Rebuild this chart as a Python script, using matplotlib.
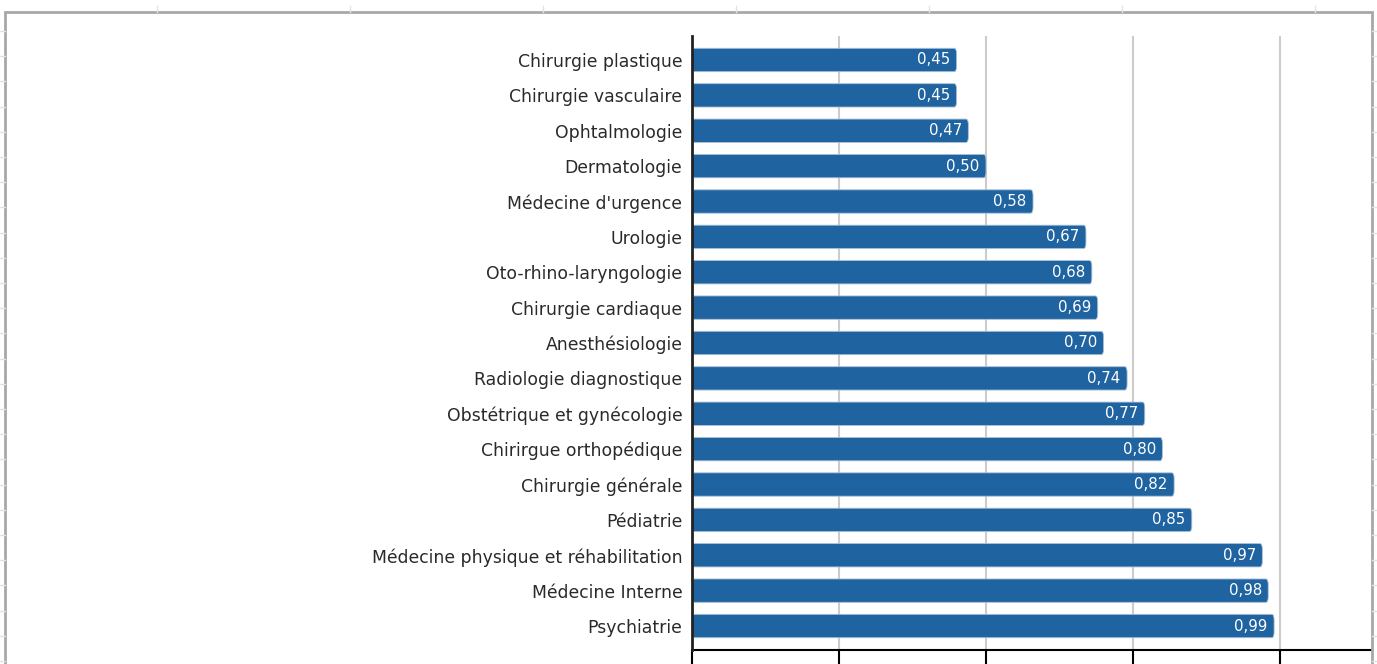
import matplotlib
matplotlib.use("Agg")
import matplotlib.pyplot as plt
from matplotlib.patches import FancyBboxPatch, Rectangle
from matplotlib.lines import Line2D

categories = [
    "Chirurgie plastique", "Chirurgie vasculaire", "Ophtalmologie", "Dermatologie",
    "Médecine d'urgence", "Urologie", "Oto-rhino-laryngologie", "Chirurgie cardiaque",
    "Anesthésiologie", "Radiologie diagnostique", "Obstétrique et gynécologie",
    "Chirirgue orthopédique", "Chirurgie générale", "Pédiatrie",
    "Médecine physique et réhabilitation", "Médecine Interne", "Psychiatrie",
]
values = [0.45, 0.45, 0.47, 0.50, 0.58, 0.67, 0.68, 0.69, 0.70, 0.74, 0.77,
          0.80, 0.82, 0.85, 0.97, 0.98, 0.99]
x_ticks = [0, 0.25, 0.5, 0.75, 1.0]

plt.rcParams['font.family'] = ['DejaVu Sans']

W, H = 1377, 664
fig = plt.figure(figsize=(W / 100, H / 100), dpi=100)
fig.patch.set_facecolor("white")

# spreadsheet background decorations
for xv in [157, 350, 543, 736, 929, 1122, 1315]:
    fig.add_artist(Line2D([xv / W, xv / W], [1 - 6 / H, 1 - 12 / H], color="#e3e3e3", lw=1))
for k in range(26):
    yv = 31 + 25.2 * k
    if yv > H:
        break
    fig.add_artist(Line2D([0, 5 / W], [1 - yv / H, 1 - yv / H], color="#e3e3e3", lw=1))
    fig.add_artist(Line2D([1372 / W, 1], [1 - yv / H, 1 - yv / H], color="#e3e3e3", lw=1))

# chart frame
fig.add_artist(Rectangle((5 / W, -0.1), (1372 - 5) / W, 1.1 - 12 / H,
                         fill=False, edgecolor="#a8a8a8", lw=2, transform=fig.transFigure))

ax_left, ax_right = 692 / W, 1372 / W
ax_top, ax_bottom = 1 - 36 / H, 1 - 650 / H
ax = fig.add_axes([ax_left, ax_bottom, ax_right - ax_left, ax_top - ax_bottom])

n = len(categories)
pad = 0.678
ax.set_ylim(n - 1 + pad, -pad)
ax.set_xlim(0, 1.1565)

bar_h = 0.66
color = "#1f63a0"
for i, (c, v) in enumerate(zip(categories, values)):
    p = FancyBboxPatch((0, i - bar_h / 2), v, bar_h,
                       boxstyle="round,pad=0,rounding_size=0.004",
                       mutation_aspect=40,
                       facecolor=color, edgecolor="#a9c1d9", lw=0.6, zorder=3)
    ax.add_patch(p)
    ax.text(v - 0.011, i, f"{v:.2f}".replace(".", ","), ha="right", va="center",
            color="white", fontsize=10.8, zorder=4)

ax.set_yticks(range(n))
ax.set_yticklabels(categories, fontsize=12.4, color="#2a2a2a")
ax.tick_params(axis="y", length=0, pad=7)

ax.set_xticks(x_ticks)
ax.set_xticklabels([])
ax.tick_params(axis="x", direction="out", length=20, width=1.5, color="black")
ax.grid(axis="x", color="#cccccc", lw=1.5, zorder=0)
ax.set_axisbelow(True)

for s in ["top", "right"]:
    ax.spines[s].set_visible(False)
ax.spines["left"].set_linewidth(2)
ax.spines["left"].set_color("#222222")
ax.spines["bottom"].set_linewidth(1.5)
ax.spines["bottom"].set_color("black")
ax.spines["left"].set_zorder(5)

fig.savefig("out.png", dpi=100)
